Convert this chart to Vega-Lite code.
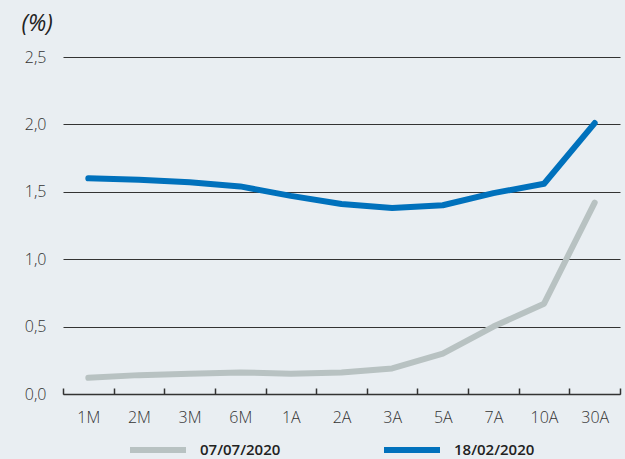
{
  "$schema": "https://vega.github.io/schema/vega-lite/v6.json",
  "width": 557,
  "height": 337,
  "autosize": {"type": "none"},
  "padding": {"left": 63, "top": 57, "right": 5, "bottom": 65},
  "background": "#E9EEF2",
  "config": {
    "view": {"stroke": null},
    "font": "Open Sans"
  },
  "data": {
    "values": [
      {"plazo": "1M", "serie": "07/07/2020", "valor": 0.12},
      {"plazo": "2M", "serie": "07/07/2020", "valor": 0.14},
      {"plazo": "3M", "serie": "07/07/2020", "valor": 0.15},
      {"plazo": "6M", "serie": "07/07/2020", "valor": 0.16},
      {"plazo": "1A", "serie": "07/07/2020", "valor": 0.15},
      {"plazo": "2A", "serie": "07/07/2020", "valor": 0.16},
      {"plazo": "3A", "serie": "07/07/2020", "valor": 0.19},
      {"plazo": "5A", "serie": "07/07/2020", "valor": 0.30},
      {"plazo": "7A", "serie": "07/07/2020", "valor": 0.50},
      {"plazo": "10A", "serie": "07/07/2020", "valor": 0.67},
      {"plazo": "30A", "serie": "07/07/2020", "valor": 1.42},
      {"plazo": "1M", "serie": "18/02/2020", "valor": 1.60},
      {"plazo": "2M", "serie": "18/02/2020", "valor": 1.59},
      {"plazo": "3M", "serie": "18/02/2020", "valor": 1.57},
      {"plazo": "6M", "serie": "18/02/2020", "valor": 1.54},
      {"plazo": "1A", "serie": "18/02/2020", "valor": 1.47},
      {"plazo": "2A", "serie": "18/02/2020", "valor": 1.41},
      {"plazo": "3A", "serie": "18/02/2020", "valor": 1.38},
      {"plazo": "5A", "serie": "18/02/2020", "valor": 1.40},
      {"plazo": "7A", "serie": "18/02/2020", "valor": 1.49},
      {"plazo": "10A", "serie": "18/02/2020", "valor": 1.56},
      {"plazo": "30A", "serie": "18/02/2020", "valor": 2.01}
    ]
  },
  "mark": {"type": "line", "strokeWidth": 6, "strokeCap": "round", "strokeJoin": "round"},
  "encoding": {
    "x": {
      "field": "plazo",
      "type": "nominal",
      "sort": ["1M", "2M", "3M", "6M", "1A", "2A", "3A", "5A", "7A", "10A", "30A"],
      "scale": {"paddingInner": 0, "paddingOuter": 0},
      "axis": {
        "title": null,
        "labelAngle": 0,
        "labelFontSize": 16,
        "labelFontWeight": 300,
        "labelColor": "#333333",
        "domainColor": "#333333",
        "domainWidth": 1.5,
        "ticks": true,
        "tickBand": "extent",
        "tickSize": -6,
        "tickWidth": 1.5,
        "tickColor": "#333333",
        "labelPadding": 21,
        "grid": false
      }
    },
    "y": {
      "field": "valor",
      "type": "quantitative",
      "scale": {"domain": [0, 2.5]},
      "axis": {
        "values": [0, 0.5, 1, 1.5, 2, 2.5],
        "labelExpr": "replace(format(datum.value, '.1f'), '.', ',')",
        "labelFontSize": 16,
        "labelFontWeight": 300,
        "labelColor": "#333333",
        "domain": false,
        "ticks": false,
        "labelPadding": 17,
        "gridColor": "#333333",
        "gridOpacity": 1,
        "gridWidth": 1,
        "title": "(%)",
        "titleAngle": 0,
        "titleX": -42,
        "titleY": -34,
        "titleAlign": "left",
        "titleBaseline": "middle",
        "titleFontStyle": "italic",
        "titleFontWeight": "normal",
        "titleFontSize": 23,
        "titleColor": "#222222"
      }
    },
    "color": {
      "field": "serie",
      "type": "nominal",
      "scale": {"domain": ["07/07/2020", "18/02/2020"], "range": ["#B8C2C2", "#0071BC"]},
      "legend": {
        "title": null,
        "orient": "none",
        "direction": "horizontal",
        "legendX": 64,
        "legendY": 362,
        "symbolType": "stroke",
        "symbolStrokeWidth": 6,
        "symbolSize": 3136,
        "columnPadding": 91,
        "labelFontSize": 15,
        "labelFontWeight": 600,
        "labelColor": "#222222",
        "labelOffset": 11,
        "labelLimit": 300
      }
    }
  }
}
